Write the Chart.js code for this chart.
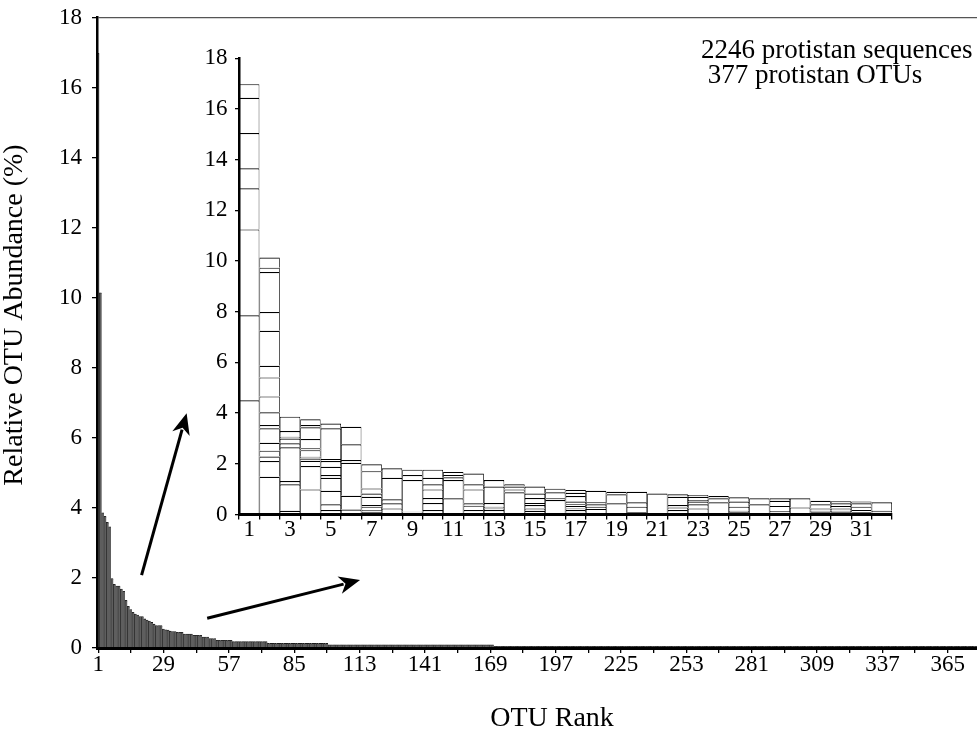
<!DOCTYPE html>
<html>
<head>
<meta charset="utf-8">
<script src="https://cdn.jsdelivr.net/npm/chart.js@4.4.0/dist/chart.umd.min.js"></script>
<style>
  body { margin: 0; background: #fff; }
  #wrap { position: relative; width: 977px; height: 729px; }
  #mainChart { position: absolute; left: 0; top: 0; }
  #insetChart { position: absolute; left: 150px; top: 40px; }
</style>
</head>
<body>
<div id="wrap">
  <canvas id="mainChart" width="977" height="729"></canvas>
  <canvas id="insetChart" width="760" height="520"></canvas>
</div>
<script>
// Relative abundance (%) of each OTU, by rank 1..377
const abundance = [
  16.98, 10.14, 3.86, 3.76, 3.59, 3.46, 1.98, 1.82, 1.77, 1.77,   // 1-10
  1.68, 1.62, 1.36, 1.19, 1.10, 1.02, 0.97, 0.94, 0.90, 0.90,     // 11-20
  0.83, 0.80, 0.77, 0.73, 0.68, 0.64, 0.64, 0.64, 0.54, 0.52,     // 21-30
  0.51, 0.48, 0.47, 0.47, 0.45, 0.45, 0.45, 0.40, 0.40, 0.40,     // 31-40
  0.40, 0.36, 0.36, 0.36, 0.36, 0.31, 0.31, 0.31, 0.27, 0.27,     // 41-50
  0.27, 0.22, 0.22, 0.22, 0.22, 0.22, 0.22, 0.22, 0.18, 0.18,     // 51-60
  0.18, 0.18, 0.18, 0.18, 0.18, 0.18, 0.18, 0.18, 0.18, 0.18,     // 61-70
  0.18, 0.18, 0.18, 0.13, 0.13, 0.13, 0.13, 0.13, 0.13, 0.13,     // 71-80
  0.13, 0.13, 0.13, 0.13, 0.13, 0.13, 0.13, 0.13, 0.13, 0.13,     // 81-90
  0.13, 0.13, 0.13, 0.13, 0.13, 0.13, 0.13, 0.13, 0.13, 0.09,     // 91-100
  0.09, 0.09, 0.09, 0.09, 0.09, 0.09, 0.09, 0.09, 0.09, 0.09,     // 101-110
  0.09, 0.09, 0.09, 0.09, 0.09, 0.09, 0.09, 0.09, 0.09, 0.09,     // 111-120
  0.09, 0.09, 0.09, 0.09, 0.09, 0.09, 0.09, 0.09, 0.09, 0.09,     // 121-130
  0.09, 0.09, 0.09, 0.09, 0.09, 0.09, 0.09, 0.09, 0.09, 0.09,     // 131-140
  0.09, 0.09, 0.09, 0.09, 0.09, 0.09, 0.09, 0.09, 0.09, 0.09,     // 141-150
  0.09, 0.09, 0.09, 0.09, 0.09, 0.09, 0.09, 0.09, 0.09, 0.09,     // 151-160
  0.09, 0.09, 0.09, 0.09, 0.09, 0.09, 0.09, 0.09, 0.09, 0.09,     // 161-170
  0.045, 0.045, 0.045, 0.045, 0.045, 0.045, 0.045, 0.045, 0.045, 0.045, // 171-180
  0.045, 0.045, 0.045, 0.045, 0.045, 0.045, 0.045, 0.045, 0.045, 0.045, // 181-190
  0.045, 0.045, 0.045, 0.045, 0.045, 0.045, 0.045, 0.045, 0.045, 0.045, // 191-200
  0.045, 0.045, 0.045, 0.045, 0.045, 0.045, 0.045, 0.045, 0.045, 0.045, // 201-210
  0.045, 0.045, 0.045, 0.045, 0.045, 0.045, 0.045, 0.045, 0.045, 0.045, // 211-220
  0.045, 0.045, 0.045, 0.045, 0.045, 0.045, 0.045, 0.045, 0.045, 0.045, // 221-230
  0.045, 0.045, 0.045, 0.045, 0.045, 0.045, 0.045, 0.045, 0.045, 0.045, // 231-240
  0.045, 0.045, 0.045, 0.045, 0.045, 0.045, 0.045, 0.045, 0.045, 0.045, // 241-250
  0.045, 0.045, 0.045, 0.045, 0.045, 0.045, 0.045, 0.045, 0.045, 0.045, // 251-260
  0.045, 0.045, 0.045, 0.045, 0.045, 0.045, 0.045, 0.045, 0.045, 0.045, // 261-270
  0.045, 0.045, 0.045, 0.045, 0.045, 0.045, 0.045, 0.045, 0.045, 0.045, // 271-280
  0.045, 0.045, 0.045, 0.045, 0.045, 0.045, 0.045, 0.045, 0.045, 0.045, // 281-290
  0.045, 0.045, 0.045, 0.045, 0.045, 0.045, 0.045, 0.045, 0.045, 0.045, // 291-300
  0.045, 0.045, 0.045, 0.045, 0.045, 0.045, 0.045, 0.045, 0.045, 0.045, // 301-310
  0.045, 0.045, 0.045, 0.045, 0.045, 0.045, 0.045, 0.045, 0.045, 0.045, // 311-320
  0.045, 0.045, 0.045, 0.045, 0.045, 0.045, 0.045, 0.045, 0.045, 0.045, // 321-330
  0.045, 0.045, 0.045, 0.045, 0.045, 0.045, 0.045, 0.045, 0.045, 0.045, // 331-340
  0.045, 0.045, 0.045, 0.045, 0.045, 0.045, 0.045, 0.045, 0.045, 0.045, // 341-350
  0.045, 0.045, 0.045, 0.045, 0.045, 0.045, 0.045, 0.045, 0.045, 0.045, // 351-360
  0.045, 0.045, 0.045, 0.045, 0.045, 0.045, 0.045, 0.045, 0.045, 0.045, // 361-370
  0.045, 0.045, 0.045, 0.045, 0.045, 0.045, 0.045                       // 371-377
];
const rankTickLabels = [1, 29, 57, 85, 113, 141, 169, 197, 225, 253, 281, 309, 337, 365];

// Inset: top 32 OTUs, cumulative heights (%) of the stacked pieces, bottom to top
const insetBounds = [
  [4.51, 7.86, 11.25, 12.87, 13.66, 15.05, 16.44, 16.98],
  [1.49, 2.11, 2.29, 2.52, 2.83, 3.40, 3.53, 4.03, 4.66, 5.41, 5.87, 7.25, 7.99, 9.57, 9.74, 10.14],
  [0.15, 1.19, 1.32, 2.65, 2.81, 3.00, 3.07, 3.29, 3.86],
  [0.99, 1.91, 2.12, 2.21, 2.28, 2.54, 2.61, 2.98, 3.44, 3.53, 3.76],
  [0.18, 0.40, 0.94, 1.45, 1.56, 1.88, 2.11, 2.19, 3.40, 3.59],
  [0.20, 0.74, 2.04, 2.15, 2.77, 3.46],
  [0.11, 0.18, 0.31, 0.37, 0.70, 0.83, 1.03, 1.71, 1.98],
  [0.24, 0.44, 0.60, 1.45, 1.82],
  [0.06, 0.11, 1.36, 1.56, 1.77],
  [0.18, 0.45, 0.65, 0.99, 1.19, 1.45, 1.77],
  [0.64, 1.36, 1.47, 1.56, 1.68],
  [0.18, 0.35, 0.44, 0.99, 1.19, 1.62],
  [0.18, 0.24, 0.31, 0.45, 1.10, 1.36],
  [0.88, 0.99, 1.10, 1.19],
  [0.15, 0.24, 0.37, 0.45, 0.65, 0.83, 1.10],
  [0.57, 0.64, 0.88, 1.02],
  [0.07, 0.18, 0.24, 0.34, 0.40, 0.51, 0.73, 0.86, 0.97],
  [0.22, 0.31, 0.40, 0.48, 0.94],
  [0.44, 0.80, 0.90],
  [0.09, 0.31, 0.48, 0.90],
  [0.83],
  [0.18, 0.28, 0.37, 0.70, 0.80],
  [0.24, 0.40, 0.51, 0.57, 0.70, 0.77],
  [0.48, 0.64, 0.73],
  [0.09, 0.15, 0.31, 0.51, 0.68],
  [0.40, 0.64],
  [0.07, 0.14, 0.34, 0.54, 0.64],
  [0.28, 0.64],
  [0.09, 0.15, 0.24, 0.40, 0.54],
  [0.09, 0.15, 0.24, 0.34, 0.44, 0.52],
  [0.09, 0.18, 0.31, 0.44, 0.51],
  [0.07, 0.15, 0.48]
];
const insetTickLabels = [1, 3, 5, 7, 9, 11, 13, 15, 17, 19, 21, 23, 25, 27, 29, 31];

const noteLines = ['2246 protistan sequences', ' 377 protistan OTUs'];
const xTitle = 'OTU Rank';
const yTitle = 'Relative OTU Abundance (%)';

// arrows in main-chart data coords: [rank index, abundance]
const arrows = [
  { from: [18.6, 2.08], to: [37.9, 6.70] },
  { from: [46.7, 0.85], to: [112.2, 1.94] }
];

Chart.defaults.font.family = '"Liberation Serif", "Times New Roman", serif';
Chart.defaults.color = '#000';

const FONT = '"Liberation Serif", "Times New Roman", serif';

const decorations = {
    id: 'decorations',
    afterDraw(chart) {
        const { ctx, scales: { x, y } } = chart;
        ctx.save();
        ctx.fillStyle = '#000';
        ctx.strokeStyle = '#000';
        ctx.lineWidth = 3;

        // Arrows
        arrows.forEach(a => {
            const x0 = x.getPixelForValue(a.from[0]), y0 = y.getPixelForValue(a.from[1]);
            const x1 = x.getPixelForValue(a.to[0]), y1 = y.getPixelForValue(a.to[1]);
            const ang = Math.atan2(y1 - y0, x1 - x0);
            const len = 21, half = 9;
            const bx = x1 - len * Math.cos(ang), by = y1 - len * Math.sin(ang);
            ctx.beginPath();
            ctx.moveTo(x0, y0);
            ctx.lineTo(bx + 4 * Math.cos(ang), by + 4 * Math.sin(ang));
            ctx.stroke();
            ctx.beginPath();
            ctx.moveTo(x1, y1);
            ctx.lineTo(bx - half * Math.sin(ang), by + half * Math.cos(ang));
            ctx.lineTo(bx + 6 * Math.cos(ang), by + 6 * Math.sin(ang));
            ctx.lineTo(bx + half * Math.sin(ang), by - half * Math.cos(ang));
            ctx.closePath();
            ctx.fill();
        });

        // Note text (top right)
        ctx.font = '27px ' + FONT;
        ctx.textAlign = 'left';
        ctx.textBaseline = 'alphabetic';
        ctx.fillText(noteLines[0], 701, 58);
        ctx.fillText(noteLines[1], 701, 83);

        // Axis titles
        ctx.font = '28px ' + FONT;
        ctx.textAlign = 'center';
        ctx.fillText(xTitle, 552, 726);
        ctx.translate(22, 315);
        ctx.rotate(-Math.PI / 2);
        ctx.fillText(yTitle, 0, 0);
        ctx.restore();
    }
};

// Main rank-abundance chart
new Chart(document.getElementById('mainChart'), {
    type: 'bar',
    data: {
        labels: abundance.map((_, i) => String(i + 1)),
        datasets: [{
            data: abundance,
            backgroundColor: '#5e5e5e',
            borderColor: '#1a1a1a',
            borderWidth: { left: 0.6, top: 0.8, right: 0, bottom: 0 },
            barPercentage: 1,
            categoryPercentage: 1
        }]
    },
    options: {
        responsive: false,
        animation: false,
        layout: { padding: { top: 17.5, left: 0, right: 0, bottom: 0 } },
        plugins: { legend: { display: false }, tooltip: { enabled: false } },
        scales: {
            x: {
                offset: true,
                grid: {
                    offset: false,
                    drawOnChartArea: false,
                    tickLength: 5,
                    lineWidth: 1.3,
                    tickColor: ctx => (ctx.index % 14 === 0 ? '#000' : 'rgba(0,0,0,0)')
                },
                border: { color: '#000', width: 3, z: 1 },
                ticks: {
                    autoSkip: false, maxRotation: 0, minRotation: 0, padding: -2,
                    font: { size: 23 },
                    callback: (v, i) => (rankTickLabels.includes(i + 1) ? String(i + 1) : '')
                },
                afterFit: s => { s.height = 81; s.paddingLeft = 0; s.paddingRight = 0; }
            },
            y: {
                min: 0, max: 18,
                ticks: { stepSize: 2, padding: 10, font: { size: 23 } },
                grid: {
                    tickLength: 5,
                    lineWidth: 1.3,
                    color: ctx => (ctx.tick && ctx.tick.value === 18 ? '#555' : 'rgba(0,0,0,0)'),
                    tickColor: '#000'
                },
                border: { color: '#000', width: 2.5, z: 1 },
                afterFit: s => { s.width = 97; s.paddingTop = 0; s.paddingBottom = 0; }
            }
        }
    },
    plugins: [decorations]
});

// Inset: stacked pieces of the top 32 OTUs
const maxPieces = Math.max(...insetBounds.map(b => b.length));
const insetDatasets = [];
for (let j = 0; j < maxPieces; j++) {
    insetDatasets.push({
        data: insetBounds.map(b => (j < b.length ? +(b[j] - (j ? b[j - 1] : 0)).toFixed(3) : null)),
        backgroundColor: '#fff',
        borderColor: '#000',
        borderWidth: { top: 1.2, left: 0.8, right: 0.8, bottom: 0 },
        inflateAmount: 0,
        barPercentage: 1,
        categoryPercentage: 1,
        stack: 'otu'
    });
}

new Chart(document.getElementById('insetChart'), {
    type: 'bar',
    data: { labels: insetBounds.map((_, i) => String(i + 1)), datasets: insetDatasets },
    options: {
        responsive: false,
        animation: false,
        layout: { padding: { top: 18.3, right: 18, left: 0, bottom: 0 } },
        plugins: { legend: { display: false }, tooltip: { enabled: false } },
        scales: {
            x: {
                stacked: true,
                grid: { drawOnChartArea: false, tickLength: 5, lineWidth: 1.3, color: '#000' },
                border: { color: '#000', width: 3, z: 1 },
                ticks: {
                    autoSkip: false, maxRotation: 0, minRotation: 0, padding: -3,
                    font: { size: 23 },
                    callback: (v, i) => (insetTickLabels.includes(i + 1) ? String(i + 1) : '')
                },
                afterFit: s => { s.height = 45.5; s.paddingLeft = 0; s.paddingRight = 0; }
            },
            y: {
                stacked: true,
                min: 0, max: 18,
                ticks: { stepSize: 2, padding: 7.5, font: { size: 23 } },
                grid: { drawOnChartArea: false, tickLength: 4, lineWidth: 1.3, color: '#000' },
                border: { color: '#000', width: 2.5, z: 1 },
                afterFit: s => { s.width = 89; s.paddingTop = 0; s.paddingBottom = 0; }
            }
        }
    }
});
</script>
</body>
</html>
